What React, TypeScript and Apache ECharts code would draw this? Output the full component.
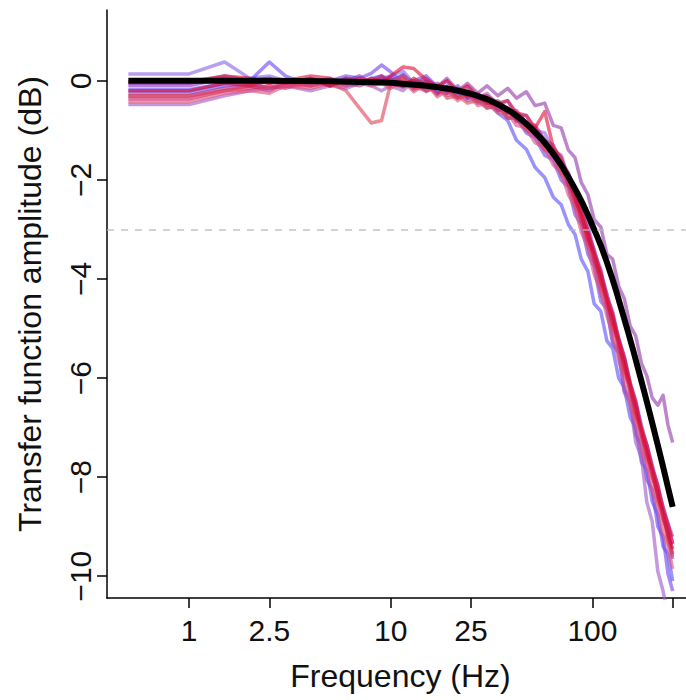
import React, { useEffect, useRef } from "react";
import * as echarts from "echarts";

// Frequencies (Hz) sampled for the measured transfer functions
const FREQS = [
  0.5, 1, 1.5, 2, 2.5, 3, 4, 5, 6, 7, 8, 9,
  10, 11.5, 13, 15, 17, 19, 21.5, 24, 27, 30, 34, 38, 42, 47, 52, 58, 64, 70,
  76, 82, 88, 95, 102, 110, 118, 126, 135, 144, 154, 164, 175, 186, 198, 211,
  224, 237, 250,
];

// Measured transfer function amplitudes (dB), blue -> red
const TRACE_1 = [-0.24,-0.24,-0.1,-0.05,-0.15,-0.1,-0.05,0.0,-0.1,-0.05,0.05,0.1,
  0.0,0.12,-0.15,-0.02,-0.25,-0.1,-0.3,-0.22,-0.42,-0.38,-0.65,-0.8,-1.2,-1.38,-1.75,-1.95,-2.35,-2.5,
  -2.9,-3.1,-3.6,-3.85,-4.5,-4.65,-5.25,-5.4,-6.0,-6.2,-6.8,-7.0,-7.7,-7.85,-8.5,-8.75,-9.4,-9.55,-10.1];
const TRACE_2 = [0.14,0.14,0.38,0.05,0.1,0.0,-0.05,0.05,-0.1,0.0,-0.05,0.05,
  0.1,0.2,-0.05,0.0,-0.15,0.0,-0.25,-0.12,-0.35,-0.25,-0.5,-0.4,-0.7,-0.7,-1.0,-1.05,-1.4,-1.5,
  -1.95,-2.15,-2.65,-2.9,-3.45,-3.8,-4.35,-4.65,-5.2,-5.55,-6.1,-6.45,-6.95,-7.35,-7.75,-8.2,-8.6,-8.95,-9.35];
const TRACE_3 = [-0.18,-0.18,-0.05,0.0,0.38,0.1,-0.1,0.0,0.1,0.05,0.15,0.32,
  0.18,-0.05,0.0,0.1,-0.12,-0.25,-0.1,-0.35,-0.3,-0.5,-0.5,-0.75,-0.75,-1.05,-1.15,-1.5,-1.6,-2.0,
  -2.15,-2.7,-2.9,-3.5,-3.75,-4.45,-4.6,-5.3,-5.5,-6.25,-6.4,-7.15,-7.35,-8.05,-8.25,-9.0,-9.2,-9.95,-10.3];
const TRACE_4 = [-0.1,-0.1,0.05,-0.05,0.0,-0.1,0.05,-0.05,0.0,0.1,-0.05,0.0,
  0.08,-0.1,-0.12,-0.02,-0.25,-0.12,-0.35,-0.2,-0.45,-0.4,-0.6,-0.55,-0.8,-0.82,-1.1,-1.2,-1.55,-1.65,
  -2.1,-2.3,-2.8,-3.05,-3.6,-3.9,-4.5,-4.75,-5.35,-5.65,-6.25,-6.55,-7.15,-7.45,-7.95,-8.35,-8.8,-9.15,-9.65];
const TRACE_5 = [-0.48,-0.48,-0.3,-0.2,-0.15,-0.1,-0.2,-0.1,-0.15,-0.05,-0.1,-0.2,
  -0.1,-0.2,0.0,-0.22,-0.12,-0.3,-0.22,-0.4,-0.35,-0.55,-0.5,-0.75,-0.75,-1.0,-1.1,-1.4,-1.55,-1.9,
  -2.1,-2.55,-2.8,-3.35,-3.65,-4.3,-4.55,-5.25,-5.5,-6.3,-6.5,-7.3,-7.6,-8.5,-8.9,-9.9,-10.3,-10.8,-10.9];
const TRACE_6 = [-0.05,-0.05,0.1,0.0,0.05,-0.05,0.0,-0.1,0.05,0.0,-0.05,0.05,
  -0.05,0.12,-0.05,0.05,-0.12,0.05,-0.2,-0.05,-0.25,-0.1,-0.3,-0.15,-0.35,-0.22,-0.5,-0.45,-0.9,-0.95,
  -1.4,-1.55,-2.05,-2.3,-2.8,-2.95,-3.5,-3.6,-4.15,-4.4,-4.95,-5.15,-5.7,-5.95,-6.4,-6.55,-6.35,-6.95,-7.3];
const TRACE_7 = [-0.3,-0.3,-0.15,-0.1,-0.2,-0.05,-0.1,0.0,-0.05,-0.1,0.0,-0.05,
  0.05,-0.12,0.0,-0.2,-0.05,-0.25,-0.15,-0.35,-0.25,-0.45,-0.4,-0.6,-0.6,-0.85,-0.9,-1.2,-1.3,-1.65,
  -1.85,-2.3,-2.55,-3.1,-3.4,-3.9,-4.3,-4.75,-5.2,-5.6,-6.1,-6.5,-7.0,-7.35,-7.8,-8.2,-8.6,-8.95,-9.2];
const TRACE_8 = [-0.36,-0.36,-0.2,-0.15,-0.1,-0.15,0.0,-0.1,0.05,-0.05,0.0,0.1,
  -0.05,0.05,-0.18,-0.05,-0.28,-0.15,-0.35,-0.28,-0.38,-0.4,-0.6,-0.55,-0.82,-0.85,-1.1,-1.25,-1.5,-1.7,
  -2.1,-2.35,-2.85,-3.1,-3.65,-3.95,-4.55,-4.8,-5.4,-5.7,-6.3,-6.6,-7.2,-7.45,-8.0,-8.3,-8.85,-9.1,-9.55];
const TRACE_9 = [-0.42,-0.42,-0.25,-0.2,-0.25,-0.1,-0.15,-0.05,-0.1,0.0,-0.1,-0.05,
  -0.15,0.0,-0.22,-0.05,-0.32,-0.2,-0.4,-0.25,-0.5,-0.45,-0.65,-0.65,-0.9,-0.95,-1.25,-1.35,-1.7,-1.85,
  -2.3,-2.55,-3.05,-3.35,-3.9,-4.25,-4.75,-5.1,-5.65,-6.0,-6.55,-6.9,-7.45,-7.75,-8.3,-8.6,-9.15,-9.4,-9.85];
const TRACE_10 = [-0.02,-0.02,0.1,0.05,-0.05,0.0,0.1,0.05,-0.05,0.05,0.0,-0.05,
  0.1,0.28,0.25,0.02,-0.12,0.0,-0.22,-0.1,-0.32,-0.3,-0.45,-0.4,-0.65,-0.7,-0.95,-0.62,-1.35,-1.55,
  -1.95,-2.2,-2.65,-3.0,-3.5,-3.85,-4.4,-4.7,-5.25,-5.6,-6.15,-6.5,-7.05,-7.35,-7.85,-8.15,-8.7,-8.95,-9.35];
const TRACE_11 = [-0.3,-0.3,-0.2,-0.1,-0.15,-0.05,-0.1,-0.05,-0.2,-0.55,-0.85,-0.8,
  -0.05,0.08,-0.12,-0.2,-0.1,-0.35,-0.3,-0.45,-0.4,-0.55,-0.5,-0.75,-0.7,-1.0,-1.05,-1.4,-1.45,-1.85,
  -2.0,-2.5,-2.75,-3.3,-3.55,-4.15,-4.45,-5.0,-5.3,-5.9,-6.2,-6.8,-7.1,-7.65,-7.95,-8.5,-8.8,-9.3,-9.6];
const TRACE_12 = [-0.2,-0.2,-0.05,-0.1,0.0,-0.05,0.05,-0.1,0.0,-0.05,0.05,0.0,
  -0.05,-0.12,0.05,-0.1,-0.1,-0.2,-0.2,-0.3,-0.3,-0.45,-0.45,-0.65,-0.65,-0.9,-0.95,-1.25,-1.4,-1.7,
  -1.95,-2.4,-2.7,-3.2,-3.5,-4.05,-4.4,-4.9,-5.25,-5.8,-6.15,-6.7,-7.05,-7.55,-7.85,-8.4,-8.7,-9.2,-9.45];

const TRACES = [
  TRACE_1, TRACE_2, TRACE_3, TRACE_4, TRACE_5, TRACE_6,
  TRACE_7, TRACE_8, TRACE_9, TRACE_10, TRACE_11, TRACE_12,
];

const TRACE_COLORS = [
  "rgba(90,80,250,0.62)",
  "rgba(140,100,230,0.62)",
  "rgba(110,70,240,0.62)",
  "rgba(130,50,200,0.62)",
  "rgba(160,90,200,0.62)",
  "rgba(150,60,170,0.62)",
  "rgba(180,40,140,0.62)",
  "rgba(200,25,100,0.62)",
  "rgba(225,80,120,0.62)",
  "rgba(225,20,60,0.62)",
  "rgba(225,70,90,0.62)",
  "rgba(215,10,50,0.62)",
];

// Model (black) transfer function
const MODEL_FREQS = [
  0.5, 1, 2.5, 5, 10, 15, 20, 25, 30, 35, 40, 45, 50, 55, 60, 65, 70, 75, 80,
  85, 90, 95, 100, 105, 110, 117, 125, 132, 140, 150, 160, 170, 180, 190, 200,
  212, 225, 237, 250,
];
const MODEL_DB = [
  0, 0, 0, -0.01, -0.04, -0.1, -0.17, -0.26, -0.37, -0.5, -0.64, -0.8, -0.97,
  -1.14, -1.32, -1.51, -1.7, -1.9, -2.1, -2.3, -2.5, -2.71, -2.92, -3.12, -3.32,
  -3.62, -3.97, -4.28, -4.64, -5.06, -5.47, -5.87, -6.25, -6.62, -6.98, -7.39,
  -7.82, -8.21, -8.6,
];

const CUTOFF_DB = -3;

const X_TICKS = [1, 2.5, 10, 25, 100, 250];
const X_TICK_LABELS = ["1", "2.5", "10", "25", "100", ""];
const Y_TICKS = [0, -2, -4, -6, -8, -10];

const FONT = "'Liberation Sans', Arial, Helvetica, sans-serif";

export default function App() {
  const ref = useRef<HTMLDivElement>(null);

  useEffect(() => {
    if (!ref.current) return;
    const chart = echarts.init(ref.current, undefined, { renderer: "svg" });
    const lg = (f: number) => Math.log10(f);

    const traceSeries = TRACES.map((vals, i) => ({
      type: "line",
      name: "trace" + (i + 1),
      data: FREQS.map((f, j) => [lg(f), vals[j]]),
      showSymbol: false,
      symbol: "none",
      clip: true,
      lineStyle: { color: TRACE_COLORS[i], width: 3.5, join: "round" },
      silent: true,
      z: 2,
    }));

    const xLabelValues = X_TICKS.filter((_, i) => X_TICK_LABELS[i] !== "").map(lg);

    const option: any = {
      animation: false,
      backgroundColor: "#ffffff",
      grid: { left: 107, right: 0, top: 10, bottom: 102, containLabel: false },
      xAxis: {
        type: "value",
        min: -0.407,
        max: 2.464,
        axisLine: { show: true, onZero: false, lineStyle: { color: "#000", width: 1.5 } },
        axisTick: {
          show: true,
          customValues: X_TICKS.map(lg),
          length: 10,
          lineStyle: { color: "#000", width: 1.5 },
        },
        axisLabel: {
          customValues: xLabelValues,
          formatter: (v: number) => {
            let best = 0;
            X_TICKS.forEach((t, i) => {
              if (Math.abs(lg(t) - v) < Math.abs(lg(X_TICKS[best]) - v)) best = i;
            });
            return X_TICK_LABELS[best];
          },
          margin: 17,
          fontSize: 30,
          color: "#111",
          fontFamily: FONT,
        },
        splitLine: { show: false },
        name: "Frequency (Hz)",
        nameLocation: "middle",
        nameGap: 62,
        nameTextStyle: { fontSize: 32, color: "#111", fontFamily: FONT, padding: [0, 0, 0, 8] },
      },
      yAxis: {
        type: "value",
        min: -10.44,
        max: 1.43,
        axisLine: { show: true, onZero: false, lineStyle: { color: "#000", width: 1.5 } },
        axisTick: {
          show: true,
          customValues: Y_TICKS,
          length: 10,
          lineStyle: { color: "#000", width: 1.5 },
        },
        axisLabel: {
          customValues: Y_TICKS,
          rotate: 90,
          margin: 12,
          formatter: (v: number) => (v < 0 ? "\u2212" + Math.abs(v) : String(v)),
          fontSize: 30,
          color: "#111",
          fontFamily: FONT,
        },
        splitLine: { show: false },
        name: "Transfer function amplitude (dB)",
        nameLocation: "middle",
        nameGap: 61,
        nameRotate: 90,
        nameTextStyle: { fontSize: 32, color: "#111", fontFamily: FONT },
      },
      series: [
        ...traceSeries,
        {
          type: "line",
          name: "cutoff",
          data: [],
          silent: true,
          z: 3,
          markLine: {
            silent: true,
            symbol: "none",
            label: { show: false },
            lineStyle: { color: "rgba(185,185,185,0.85)", type: [7, 7], width: 1.5 },
            data: [{ yAxis: CUTOFF_DB }],
          },
        },
        {
          type: "line",
          name: "model",
          data: MODEL_FREQS.map((f, j) => [lg(f), MODEL_DB[j]]),
          showSymbol: false,
          symbol: "none",
          smooth: false,
          lineStyle: { color: "#000", width: 6, join: "round" },
          silent: true,
          z: 4,
        },
      ],
    };

    chart.setOption(option);
    return () => chart.dispose();
  }, []);

  return (
    <div
      ref={ref}
      style={{ position: "absolute", left: 0, top: 0, width: 686, height: 700 }}
    />
  );
}
